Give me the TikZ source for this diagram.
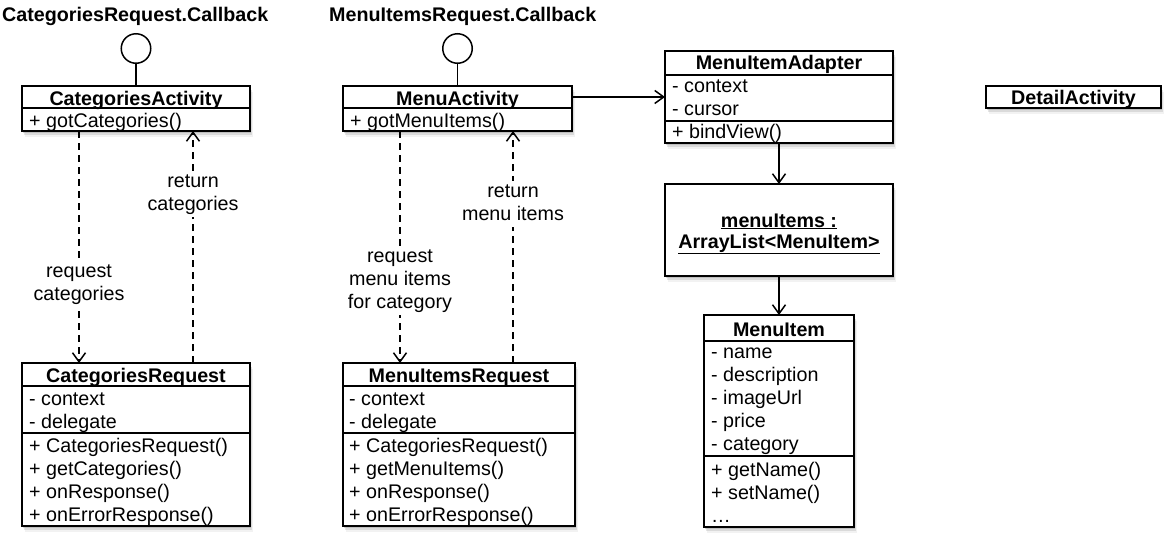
\documentclass[tikz,border=0pt]{standalone}
\usepackage{fontspec}
\setmainfont{Liberation Sans}
\usetikzlibrary{arrows.meta,shadows,calc}
\begin{document}
\begin{tikzpicture}[x=1pt,y=-1pt,
  font=\fontsize{19.7pt}{23pt}\selectfont,
  umlbox/.style={draw, line width=1.8pt, fill=white, rectangle, anchor=north west,
    inner sep=0pt, outer sep=0pt,
    drop shadow={shadow xshift=1pt, shadow yshift=-2pt, opacity=0.3},
    drop shadow={shadow xshift=2pt, shadow yshift=-4pt, opacity=0.2},
    drop shadow={shadow xshift=2.5pt, shadow yshift=-5.5pt, opacity=0.1}},
  divider/.style={line width=1.5pt},
  hdr/.style={anchor=base, inner sep=0pt, font=\fontsize{19.7pt}{23pt}\selectfont\bfseries},
  mem/.style={anchor=base west, inner sep=0pt},
  ttl/.style={anchor=base west, inner sep=0pt, font=\fontsize{19.7pt}{23pt}\selectfont\bfseries},
  lolli/.style={draw, circle, line width=1.5pt, minimum size=29.5pt, inner sep=0pt, fill=white},
  stem/.style={line width=1.5pt},
  arr/.style={line width=1.5pt, -{Straight Barb[length=9pt,width=13pt,line width=1.5pt]}},
  darr/.style={line width=1.8pt, dash pattern=on 7pt off 5pt, -{Straight Barb[length=9pt,width=13pt,line width=1.5pt]}},
  lbl/.style={anchor=base, fill=white, inner sep=1pt, text height=15pt, text depth=6pt}
]
\useasboundingbox[fill=white] (0,0) rectangle (1168,536);

% titles
\node[ttl] (t1) at (2,21) {CategoriesRequest.Callback};
\node[ttl] (t2) at (329,21) {MenuItemsRequest.Callback};

% CategoriesActivity
\node[umlbox, minimum width=228pt, minimum height=45pt] (CA) at (22,86) {};
\draw[divider] ($(CA.north west)+(0,22)$) -- ($(CA.north east)+(0,22)$);
\node[hdr] (CAh) at (136,105) {CategoriesActivity};
\node[mem] (CAm1) at (29,127) {+ gotCategories()};
\node[lolli] (CAi) at (136,48.5) {};
\draw[stem] (CAi.south) -- (CA.north);

% MenuActivity
\node[umlbox, minimum width=229pt, minimum height=45pt] (MA) at (343,86) {};
\draw[divider] ($(MA.north west)+(0,22)$) -- ($(MA.north east)+(0,22)$);
\node[hdr] (MAh) at (457.5,105) {MenuActivity};
\node[mem] (MAm1) at (350,127) {+ gotMenuItems()};
\node[lolli] (MAi) at (457.5,48.5) {};
\draw[stem] (MAi.south) -- (MA.north);

% MenuItemAdapter
\node[umlbox, minimum width=228pt, minimum height=92pt] (MIA) at (665,51) {};
\draw[divider] ($(MIA.north west)+(0,24)$) -- ($(MIA.north east)+(0,24)$);
\draw[divider] ($(MIA.north west)+(0,70)$) -- ($(MIA.north east)+(0,70)$);
\node[hdr] (MIAh) at (779,69) {MenuItemAdapter};
\node[mem] (MIAa1) at (672,92) {- context};
\node[mem] (MIAa2) at (672,115) {- cursor};
\node[mem] (MIAm1) at (672,138) {+ bindView()};

% menuItems object
\node[umlbox, minimum width=228pt, minimum height=92pt] (ML) at (665,184) {};
\node[hdr] (ML1) at (779,227) {\underline{menuItems :}};
\node[hdr] (ML2) at (779,248) {\underline{ArrayList<MenuItem>}};

% MenuItem
\node[umlbox, minimum width=150pt, minimum height=212pt] (MI) at (704,315) {};
\draw[divider] ($(MI.north west)+(0,26)$) -- ($(MI.north east)+(0,26)$);
\draw[divider] ($(MI.north west)+(0,141)$) -- ($(MI.north east)+(0,141)$);
\node[hdr] (MIh) at (779,336) {MenuItem};
\node[mem] (MIa1) at (711,358) {- name};
\node[mem] (MIa2) at (711,381) {- description};
\node[mem] (MIa3) at (711,404) {- imageUrl};
\node[mem] (MIa4) at (711,427) {- price};
\node[mem] (MIa5) at (711,450) {- category};
\node[mem] (MIm1) at (711,476) {+ getName()};
\node[mem] (MIm2) at (711,499) {+ setName()};
\node[mem] (MIm3) at (711,522) {…};

% DetailActivity
\node[umlbox, minimum width=175pt, minimum height=22pt] (DA) at (986,86) {};
\node[hdr] (DAh) at (1073.5,104) {DetailActivity};

% CategoriesRequest
\node[umlbox, minimum width=228pt, minimum height=163pt] (CR) at (22,363) {};
\draw[divider] ($(CR.north west)+(0,23)$) -- ($(CR.north east)+(0,23)$);
\draw[divider] ($(CR.north west)+(0,70)$) -- ($(CR.north east)+(0,70)$);
\node[hdr] (CRh) at (136,382) {CategoriesRequest};
\node[mem] (CRa1) at (29,405) {- context};
\node[mem] (CRa2) at (29,428) {- delegate};
\node[mem] (CRm1) at (29,452) {+ CategoriesRequest()};
\node[mem] (CRm2) at (29,475) {+ getCategories()};
\node[mem] (CRm3) at (29,498) {+ onResponse()};
\node[mem] (CRm4) at (29,521) {+ onErrorResponse()};

% MenuItemsRequest
\node[umlbox, minimum width=232pt, minimum height=163pt] (MR) at (343,363) {};
\draw[divider] ($(MR.north west)+(0,23)$) -- ($(MR.north east)+(0,23)$);
\draw[divider] ($(MR.north west)+(0,70)$) -- ($(MR.north east)+(0,70)$);
\node[hdr] (MRh) at (459,382) {MenuItemsRequest};
\node[mem] (MRa1) at (349,405) {- context};
\node[mem] (MRa2) at (349,428) {- delegate};
\node[mem] (MRm1) at (349,452) {+ CategoriesRequest()};
\node[mem] (MRm2) at (349,475) {+ getMenuItems()};
\node[mem] (MRm3) at (349,498) {+ onResponse()};
\node[mem] (MRm4) at (349,521) {+ onErrorResponse()};

% connectors
\coordinate (MAout) at ($(MA.north east)!0.244!(MA.south east)$);
\draw[arr] (MAout) -- (MAout -| MIA.west);
\draw[arr] (MIA.south) -- (ML.north);
\draw[arr] (ML.south) -- (MI.north);

\coordinate (CAreq) at ($(CA.south west)!0.25!(CA.south east)$);
\coordinate (CAret) at ($(CA.south west)!0.75!(CA.south east)$);
\draw[darr] (CAreq) -- (CAreq |- CR.north);
\draw[darr] (CAret |- CR.north) -- (CAret);
\coordinate (MAreq) at ($(MA.south west)!0.2489!(MA.south east)$);
\coordinate (MAret) at ($(MA.south west)!0.7424!(MA.south east)$);
\draw[darr] (MAreq) -- (MAreq |- MR.north);
\draw[darr] (MAret |- MR.north) -- (MAret);

% labels
\node[lbl] (l1a) at (193,187) {return};
\node[lbl] (l1b) at (193,210) {categories};
\node[lbl] (l2a) at (79,277) {request};
\node[lbl] (l2b) at (79,300) {categories};
\node[lbl] (l3a) at (513,197) {return};
\node[lbl] (l3b) at (513,220) {menu items};
\node[lbl] (l4a) at (400,262) {request};
\node[lbl] (l4b) at (400,285) {menu items};
\node[lbl] (l4c) at (400,308) {for category};
\end{tikzpicture}
\end{document}
